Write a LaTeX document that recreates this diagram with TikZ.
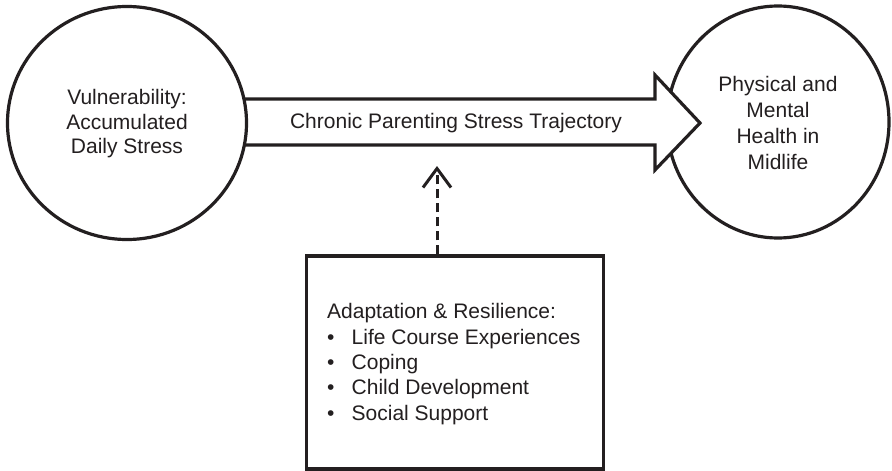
\documentclass[tikz,border=0pt]{standalone}
\usepackage{fontspec}
\setmainfont{Liberation Sans}
\usetikzlibrary{arrows.meta,shapes.geometric}
\definecolor{ink}{HTML}{231F20}
\tikzset{
  outline/.style={draw=ink, line width=3.2pt},
  lbl/.style={text=ink, font=\fontsize{21}{24}\selectfont, align=center, inner sep=0pt},
}
\begin{document}
\begin{tikzpicture}[x=1pt,y=-1pt]
\useasboundingbox[fill=white] (0,0) rectangle (892,471);
% right circle
\node[outline, ellipse, minimum width=222pt, minimum height=232pt, inner sep=0pt] (right) at (778,122) {};
% big arrow
\path[fill=white, draw=ink, line width=3.2pt, line join=miter]
  (244,99) -- (655,99) -- (655,75) -- (700,123) -- (655,170) -- (655,145) -- (244,145);
% left circle
\node[outline, ellipse, minimum width=239pt, minimum height=233pt, inner sep=0pt] (left) at (127,123) {};
\node[lbl, font=\fontsize{21}{24.5}\selectfont] (lt) at (127,124) {Vulnerability:\\Accumulated\\Daily Stress};
\node[lbl, font=\fontsize{21}{26.3}\selectfont] (rt) at (778,123) {Physical and\\Mental\\Health in\\Midlife};
\node[lbl] (traj) at (456,123) {Chronic Parenting Stress Trajectory};
% box
\node[outline, minimum width=297pt, minimum height=213pt, inner sep=0pt] (box) at (455,362.5) {};
\node[lbl, align=left, anchor=west, font=\fontsize{21}{25.3}\selectfont] (boxtext) at (327,364)
  {Adaptation \& Resilience:\\
   \makebox[24.5pt][l]{•}Life Course Experiences\\
   \makebox[24.5pt][l]{•}Coping\\
   \makebox[24.5pt][l]{•}Child Development\\
   \makebox[24.5pt][l]{•}Social Support};
% dashed arrow
\coordinate (dtip) at (437,166);
\draw[draw=ink, line width=3pt, dash pattern=on 9pt off 5pt,
  -{Straight Barb[length=19pt, width=28pt, line width=3pt, sep=0pt]}]
  (dtip |- box.north) -- (dtip);
\end{tikzpicture}
\end{document}
